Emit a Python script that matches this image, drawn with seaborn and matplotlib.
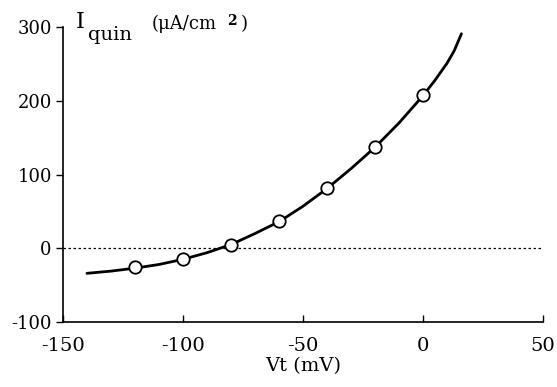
import matplotlib
matplotlib.use("Agg")
import matplotlib.pyplot as plt
import seaborn as sns

# Measured points
vt_points = [-120, -100, -80, -60, -40, -20, 0]
i_points = [-26, -15, 5, 37, 82, 137, 208]

# Fitted curve
vt_curve = [-140, -130, -120, -110, -100, -90, -80, -70, -60, -50, -40, -30, -20, -10, 0, 5, 10, 13, 16]
i_curve = [-34, -31, -27, -22, -15, -6, 5, 20, 36, 57, 81, 108, 137, 170, 207, 228, 251, 268, 291]

x_ticks = [-150, -100, -50, 0, 50]
y_ticks = [-100, 0, 100, 200, 300]

sns.set_style("white")
plt.rcParams['font.family'] = ['DejaVu Serif']
plt.rcParams['mathtext.fontset'] = 'dejavuserif'
for k in ['text.color', 'axes.labelcolor', 'xtick.color', 'ytick.color']:
    plt.rcParams[k] = 'black'

fig = plt.figure(figsize=(5.57, 3.87), dpi=100)
ax = fig.add_axes([0.113, 0.168, 0.862, 0.762])

ax.axhline(0, color='black', lw=0.9, ls=(0, (2, 2)), zorder=1)
sns.lineplot(x=vt_curve, y=i_curve, ax=ax, color='black', lw=2.0, zorder=2)
sns.scatterplot(x=vt_points, y=i_points, ax=ax, s=80, facecolor='white',
                edgecolor='black', linewidth=1.3, zorder=3)

ax.set_xlim(-150, 50)
ax.set_ylim(-100, 300)
ax.set_xticks(x_ticks)
ax.set_yticks(y_ticks)
ax.set_xticklabels([str(v) for v in x_ticks])
ax.set_yticklabels([str(v) for v in y_ticks])
ax.tick_params(axis='x', direction='in', length=5, width=1, labelsize=14, pad=11, bottom=True)
ax.tick_params(axis='y', direction='out', length=5, width=1, labelsize=13, pad=3, left=True)
for s in ['top', 'right']:
    ax.spines[s].set_visible(False)
for s in ['left', 'bottom']:
    ax.spines[s].set_color('black')
    ax.spines[s].set_linewidth(1.2)

ax.set_xlabel("Vt (mV)", fontsize=14, labelpad=1)
ax.set_ylabel("")

fig.text(76 / 557, 1 - 22 / 387, "I", fontsize=16, ha='left', va='center')
fig.text(88 / 557, 1 - 35 / 387, "quin", fontsize=14, ha='left', va='center')
fig.text(152 / 557, 1 - 24 / 387, "(μA/cm", fontsize=13, ha='left', va='center')
fig.text(227 / 557, 1 - 21 / 387, "2", fontsize=10, ha='left', va='center', fontweight='bold')
fig.text(241 / 557, 1 - 24 / 387, ")", fontsize=13, ha='left', va='center')

fig.savefig("out.png", dpi=100)
